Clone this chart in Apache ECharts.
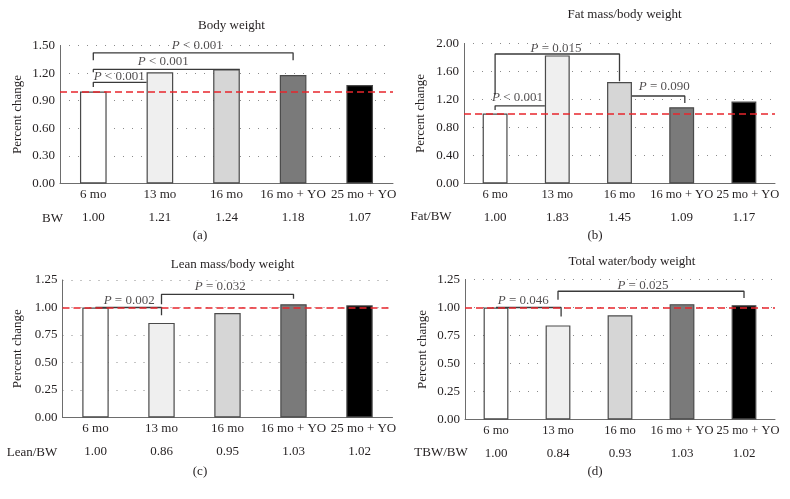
<!DOCTYPE html>
<html>
<head>
<meta charset="utf-8">
<script src="https://cdn.jsdelivr.net/npm/echarts@6/dist/echarts.min.js"></script>
<style>html,body{margin:0;padding:0;background:#fff}#c{width:790px;height:499px}</style>
</head>
<body>
<div id="c"></div>
<script>
// ---- data ----
const categories = ['6 mo', '13 mo', '16 mo', '16 mo + YO', '25 mo + YO'];
const bwValues   = [1.00, 1.21, 1.24, 1.18, 1.07];
const fatValues  = [1.00, 1.83, 1.45, 1.09, 1.17];
const leanValues = [1.00, 0.86, 0.95, 1.03, 1.02];
const tbwValues  = [1.00, 0.84, 0.93, 1.03, 1.02];
const panelTitles = ['Body weight', 'Fat mass/body weight', 'Lean mass/body weight', 'Total water/body weight'];
const rowHeaders  = ['BW', 'Fat/BW', 'Lean/BW', 'TBW/BW'];
const panelTags   = ['(a)', '(b)', '(c)', '(d)'];
const yMax      = [1.5, 2.0, 1.25, 1.25];
const yInterval = [0.3, 0.4, 0.25, 0.25];
const yDecimals = 2;
const reference = 1.0;
// significance brackets: path in (category index, value) units
const bracketsA = [
  [[0, 1.05], [0, 1.10], [0.8, 1.10]],
  [[0, 1.21], [0, 1.24], [2.2, 1.24]],
  [[0, 1.34], [0, 1.42], [3, 1.42], [3, 1.34]]
];
const bracketsB = [
  [[0, 1.05], [0, 1.11], [0.8, 1.11]],
  [[0, 1.27], [0, 1.85], [2, 1.85], [2, 1.46]],
  [[2.2, 1.25], [3.05, 1.25], [3.05, 1.15]]
];
const bracketsC = [
  [[0, 1.0], [1, 1.0], [1, 0.93]],
  [[1, 1.03], [1, 1.12], [3, 1.12], [3, 1.08]]
];
const bracketsD = [
  [[0, 1.0], [1.05, 1.0], [1.05, 0.92]],
  [[1, 1.07], [1, 1.145], [4, 1.145], [4, 1.085]]
];
// p-value labels: [x (category units), y (value), text]
const pLabelsA = [[0.39, 1.16, '< 0.001'], [1.05, 1.33, '< 0.001'], [1.56, 1.50, '< 0.001']];
const pLabelsB = [[0.36, 1.23, '< 0.001'], [0.98, 1.93, '= 0.015'], [2.72, 1.39, '= 0.090']];
const pLabelsC = [[0.51, 1.06, '= 0.002'], [1.89, 1.19, '= 0.032']];
const pLabelsD = [[0.44, 1.06, '= 0.046'], [2.37, 1.20, '= 0.025']];

const allValues = [bwValues, fatValues, leanValues, tbwValues];
const allBrackets = [bracketsA, bracketsB, bracketsC, bracketsD];
const allPLabels = [pLabelsA, pLabelsB, pLabelsC, pLabelsD];

// ---- style / layout ----
const FONT = 'Liberation Serif';
const TXT = '#231f20';
const LINE = '#3a3a3a';
const barColors = ['#ffffff', '#efefef', '#d6d6d6', '#7a7a7a', '#000000'];
const grids = [
  {left: 60, width: 333, top: 45.5, height: 138},
  {left: 464, width: 311, top: 43.5, height: 140},
  {left: 62.5, width: 330, top: 280, height: 137.5},
  {left: 465, width: 310, top: 279.5, height: 140}
];
const catFontSize = [13, 12.5, 13, 12.5];
const yNameGap = [36, 37, 38, 36];
const titlePos = [[226.5, 14], [619.5, 3], [227.5, 253], [627, 250]];
const headerPos = [[52.5, 218.5], [431, 216.5], [32, 452.5], [441, 452.5]];
const tagPos = [[200, 236], [595, 236], [200, 472], [595, 472]];

const option = {
  animation: false,
  backgroundColor: '#fff',
  textStyle: {fontFamily: FONT, color: TXT},
  title: panelTitles.map((t, i) => ({
    text: t, left: titlePos[i][0], top: titlePos[i][1], textAlign: 'center',
    textStyle: {fontFamily: FONT, fontSize: 13, fontWeight: 'normal', color: TXT}
  })),
  grid: grids.map(g => Object.assign({containLabel: false}, g)),
  xAxis: [],
  yAxis: [],
  series: [],
  graphic: []
};

for (let p = 0; p < 4; p++) {
  const fs = catFontSize[p];
  // main category axis
  option.xAxis.push({
    type: 'category', gridIndex: p, data: categories,
    axisLine: {onZero: false, lineStyle: {color: '#6d6d6d', width: 1}},
    axisTick: {show: false},
    axisLabel: {fontFamily: FONT, fontSize: fs, color: TXT, margin: 5, interval: 0,
      formatter: (v, i) => i === categories.length - 1 ? '{r|' + v + '}' : v,
      rich: {r: {fontFamily: FONT, fontSize: fs, color: TXT, padding: [0, 0, 0, 8]}}},
    splitLine: {show: false}
  });
  // value row under the categories
  option.xAxis.push({
    type: 'category', gridIndex: p, data: allValues[p].map(v => v.toFixed(2)),
    position: 'bottom', offset: 24,
    axisLine: {show: false, onZero: false}, axisTick: {show: false},
    axisLabel: {fontFamily: FONT, fontSize: 13, color: TXT, margin: 4, interval: 0},
    splitLine: {show: false}
  });
  // hidden numeric axis aligned with category centres (for brackets)
  option.xAxis.push({
    type: 'value', gridIndex: p, min: -0.5, max: 4.5, show: false,
    axisLine: {show: false, onZero: false},
    splitLine: {show: false}
  });
  option.yAxis.push({
    type: 'value', gridIndex: p, min: 0, max: yMax[p], interval: yInterval[p],
    name: 'Percent change', nameLocation: 'middle', nameGap: yNameGap[p],
    nameTextStyle: {fontFamily: FONT, fontSize: 13, color: TXT},
    axisLine: {show: true, onZero: false, lineStyle: {color: '#6d6d6d', width: 1}},
    axisTick: {show: false},
    axisLabel: {fontFamily: FONT, fontSize: 13, color: TXT, margin: 5,
      formatter: v => v.toFixed(yDecimals)},
    splitLine: {show: true, lineStyle: {color: '#8a8a8a', type: [1, 8], width: 1}}
  });

  option.series.push({
    type: 'bar', xAxisIndex: 3 * p, yAxisIndex: p, barWidth: '40%',
    data: allValues[p].map((v, i) => ({value: v, itemStyle: {color: barColors[i]}})),
    itemStyle: {borderColor: '#4a4a4a', borderWidth: 1.2},
    z: 2,
    markLine: {
      silent: true, symbol: 'none', label: {show: false},
      emphasis: {disabled: true},
      lineStyle: {color: '#e8262d', type: [7, 4], width: 1.6, opacity: 1},
      data: [{yAxis: reference}]
    }
  });

  allBrackets[p].forEach(path => {
    option.series.push({
      type: 'line', xAxisIndex: 3 * p + 2, yAxisIndex: p, data: path,
      symbol: 'none', clip: false, z: 4, silent: true,
      lineStyle: {color: LINE, width: 1.3, opacity: 1}
    });
  });

  option.series.push({
    type: 'scatter', xAxisIndex: 3 * p + 2, yAxisIndex: p, clip: false, z: 6,
    symbolSize: 1, itemStyle: {color: 'rgba(0,0,0,0)'}, silent: true,
    data: allPLabels[p].map(d => ({value: [d[0], d[1]], txt: d[2]})),
    label: {
      show: true, position: 'inside',
      formatter: prm => '{i|P} ' + prm.data.txt,
      fontFamily: FONT, fontSize: 13, color: TXT,
      rich: {i: {fontFamily: FONT, fontSize: 13, fontStyle: 'italic', color: TXT}}
    }
  });

  option.graphic.push({
    type: 'text', x: headerPos[p][0], y: headerPos[p][1],
    style: {text: rowHeaders[p], font: '13px "' + FONT + '"', fill: TXT,
      textAlign: 'center', textVerticalAlign: 'middle'}
  });
  option.graphic.push({
    type: 'text', x: tagPos[p][0], y: tagPos[p][1],
    style: {text: panelTags[p], font: '13px "' + FONT + '"', fill: TXT,
      textAlign: 'center', textVerticalAlign: 'middle'}
  });
}

const chart = echarts.init(document.getElementById('c'), null, {renderer: 'canvas'});
chart.setOption(option);
</script>
</body>
</html>
